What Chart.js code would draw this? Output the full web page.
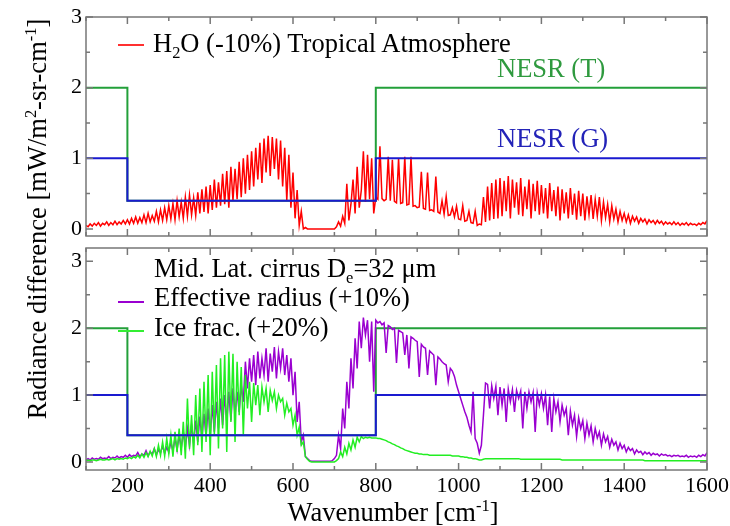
<!DOCTYPE html>
<html>
<head>
<meta charset="utf-8">
<script src="https://cdn.jsdelivr.net/npm/chart.js@4.4.1/dist/chart.umd.min.js"></script>
<style>
  body { margin: 0; background: #fff; }
  #wrap { position: relative; width: 730px; height: 526px; background: #fff; font-family: "Liberation Serif", "Times New Roman", Times, "DejaVu Serif", serif; color: #000; }
  canvas { position: absolute; left: 0; }
  .txt { position: absolute; font-size: 26.5px; line-height: 26px; white-space: nowrap; }
  .txt sup, .txt sub { font-size: 0.62em; line-height: 0; }
  .swatch { position: absolute; height: 2px; width: 26px; }
  #ytitle { position: absolute; left: -173px; top: 206px; width: 420px; text-align: center; transform: rotate(-90deg); font-size: 26.5px; line-height: 26px; white-space: nowrap; }
  #ytitle sup, #xtitle sup { font-size: 0.62em; line-height: 0; }
  #xtitle { position: absolute; left: 183px; top: 499px; width: 420px; text-align: center; font-size: 26.5px; line-height: 26px; white-space: nowrap; }
</style>
</head>
<body>
<div id="wrap">
  <canvas id="topChart" width="730" height="240" style="top:0"></canvas>
  <canvas id="bottomChart" width="730" height="286" style="top:240px"></canvas>

  <div class="swatch" style="left:118px; top:44px; background:#ff3030"></div>
  <div class="txt" style="left:153px; top:30px">H<sub>2</sub>O (-10%) Tropical Atmosphere</div>
  <div class="txt" style="left:497px; top:55px; color:#2f9a3f">NESR (T)</div>
  <div class="txt" style="left:497px; top:125px; color:#2323b8">NESR (G)</div>

  <div class="txt" style="left:154px; top:255px">Mid. Lat. cirrus D<sub>e</sub>=32 μm</div>
  <div class="swatch" style="left:118px; top:301px; background:#9a00d0"></div>
  <div class="txt" style="left:154px; top:284px">Effective radius (+10%)</div>
  <div class="swatch" style="left:118px; top:330px; background:#33ee33"></div>
  <div class="txt" style="left:154px; top:314px">Ice frac. (+20%)</div>

  <div id="ytitle">Radiance difference [mW/m<sup>2</sup>-sr-cm<sup>-1</sup>]</div>
  <div id="xtitle">Wavenumber [cm<sup>-1</sup>]</div>
</div>

<script>
// spectral grid, cm-1
const wavenumber = [
  100, 105, 110, 115, 120, 125, 130, 135, 140, 145, 150, 155, 160, 165, 170, 175, 180, 185, 190, 195,
  200, 205, 210, 215, 220, 225, 230, 235, 240, 245, 250, 255, 260, 265, 270, 275, 280, 285, 290, 295,
  300, 305, 310, 315, 320, 325, 330, 335, 340, 345, 350, 355, 360, 365, 370, 375, 380, 385, 390, 395,
  400, 405, 410, 415, 420, 425, 430, 435, 440, 445, 450, 455, 460, 465, 470, 475, 480, 485, 490, 495,
  500, 505, 510, 515, 520, 525, 530, 535, 540, 545, 550, 555, 560, 565, 570, 575, 580, 585, 590, 595,
  600, 605, 610, 615, 620, 625, 630, 635, 640, 645, 650, 655, 660, 665, 670, 675, 680, 685, 690, 695,
  700, 705, 710, 715, 720, 725, 730, 735, 740, 745, 750, 755, 760, 765, 770, 775, 780, 785, 790, 795,
  800, 805, 810, 815, 820, 825, 830, 835, 840, 845, 850, 855, 860, 865, 870, 875, 880, 885, 890, 895,
  900, 905, 910, 915, 920, 925, 930, 935, 940, 945, 950, 955, 960, 965, 970, 975, 980, 985, 990, 995,
  1000, 1005, 1010, 1015, 1020, 1025, 1030, 1035, 1040, 1045, 1050, 1055, 1060, 1065, 1070, 1075, 1080, 1085, 1090, 1095,
  1100, 1105, 1110, 1115, 1120, 1125, 1130, 1135, 1140, 1145, 1150, 1155, 1160, 1165, 1170, 1175, 1180, 1185, 1190, 1195,
  1200, 1205, 1210, 1215, 1220, 1225, 1230, 1235, 1240, 1245, 1250, 1255, 1260, 1265, 1270, 1275, 1280, 1285, 1290, 1295,
  1300, 1305, 1310, 1315, 1320, 1325, 1330, 1335, 1340, 1345, 1350, 1355, 1360, 1365, 1370, 1375, 1380, 1385, 1390, 1395,
  1400, 1405, 1410, 1415, 1420, 1425, 1430, 1435, 1440, 1445, 1450, 1455, 1460, 1465, 1470, 1475, 1480, 1485, 1490, 1495,
  1500, 1505, 1510, 1515, 1520, 1525, 1530, 1535, 1540, 1545, 1550, 1555, 1560, 1565, 1570, 1575, 1580, 1585, 1590, 1595,
  1600
];

// H2O -10%, tropical atmosphere
const h2oDiff = [
  0.05, 0.03, 0.07, 0.04, 0.08, 0.05, 0.09, 0.04, 0.08, 0.06, 0.10, 0.05, 0.09, 0.06, 0.11, 0.06, 0.10, 0.07, 0.12, 0.07,
  0.13, 0.07, 0.15, 0.08, 0.17, 0.08, 0.16, 0.09, 0.20, 0.09, 0.22, 0.10, 0.19, 0.11, 0.25, 0.10, 0.27, 0.12, 0.30, 0.13,
  0.33, 0.14, 0.36, 0.13, 0.40, 0.17, 0.38, 0.15, 0.45, 0.18, 0.48, 0.20, 0.44, 0.19, 0.52, 0.22, 0.56, 0.24, 0.60, 0.22,
  0.62, 0.27, 0.70, 0.30, 0.66, 0.33, 0.78, 0.35, 0.82, 0.30, 0.88, 0.40, 0.85, 0.42, 0.95, 0.45, 1.00, 0.50, 1.05, 0.55,
  1.10, 0.60, 1.15, 0.70, 1.22, 0.65, 1.28, 0.80, 1.32, 0.75, 1.30, 0.85, 1.28, 0.70, 1.25, 0.60, 1.15, 0.40, 1.05, 0.30,
  0.80, 0.15, 0.55, 0.05, 0.25, 0.00, 0.02, 0.00, 0.00, 0.00, 0.00, 0.00, 0.00, 0.00, 0.00, 0.00, 0.00, 0.00, 0.00, 0.00,
  0.00, 0.03, 0.10, 0.04, 0.18, 0.08, 0.64, 0.12, 0.35, 0.70, 0.22, 0.88, 0.30, 0.55, 1.10, 0.38, 1.05, 0.42, 1.00, 0.22,
  0.45, 0.42, 1.17, 0.43, 0.40, 0.42, 1.02, 0.40, 0.98, 0.39, 0.37, 1.00, 0.36, 0.37, 1.02, 0.34, 0.35, 1.02, 0.32, 0.33,
  0.30, 0.31, 0.81, 0.29, 0.28, 0.80, 0.26, 0.27, 0.25, 0.74, 0.24, 0.22, 0.40, 0.21, 0.46, 0.19, 0.20, 0.30, 0.17, 0.32,
  0.14, 0.13, 0.33, 0.11, 0.12, 0.25, 0.09, 0.08, 0.25, 0.05, 0.07, 0.06, 0.45, 0.10, 0.60, 0.12, 0.65, 0.14, 0.70, 0.15,
  0.72, 0.18, 0.68, 0.25, 0.75, 0.15, 0.70, 0.30, 0.66, 0.20, 0.72, 0.18, 0.60, 0.28, 0.70, 0.15, 0.64, 0.25, 0.68, 0.20,
  0.62, 0.22, 0.58, 0.15, 0.65, 0.25, 0.55, 0.18, 0.60, 0.12, 0.56, 0.22, 0.52, 0.15, 0.58, 0.20, 0.50, 0.13, 0.54, 0.18,
  0.50, 0.12, 0.46, 0.20, 0.48, 0.14, 0.42, 0.18, 0.45, 0.12, 0.38, 0.16, 0.35, 0.10, 0.33, 0.14, 0.28, 0.10, 0.25, 0.12,
  0.22, 0.10, 0.20, 0.08, 0.18, 0.11, 0.17, 0.08, 0.15, 0.10, 0.14, 0.07, 0.13, 0.09, 0.12, 0.07, 0.12, 0.08, 0.11, 0.06,
  0.10, 0.07, 0.09, 0.06, 0.10, 0.06, 0.09, 0.05, 0.08, 0.06, 0.09, 0.05, 0.08, 0.06, 0.07, 0.05, 0.08, 0.06, 0.09, 0.07,
  0.12
];

// mid-latitude cirrus, effective radius +10%
const effRadius = [
  0.03, 0.05, 0.03, 0.06, 0.04, 0.05, 0.04, 0.07, 0.05, 0.06, 0.05, 0.08, 0.05, 0.07, 0.06, 0.09, 0.06, 0.08, 0.07, 0.10,
  0.07, 0.11, 0.08, 0.10, 0.09, 0.14, 0.08, 0.12, 0.10, 0.17, 0.09, 0.15, 0.12, 0.20, 0.11, 0.18, 0.14, 0.24, 0.13, 0.22,
  0.15, 0.30, 0.16, 0.36, 0.18, 0.40, 0.20, 0.45, 0.22, 0.50, 0.25, 0.55, 0.28, 0.62, 0.30, 0.68, 0.35, 0.72, 0.38, 0.80,
  0.40, 0.85, 0.45, 0.90, 0.50, 0.95, 0.55, 1.00, 0.60, 1.05, 0.62, 1.10, 0.70, 1.05, 0.75, 1.15, 0.90, 1.50, 1.10, 1.55,
  1.20, 1.60, 1.15, 1.65, 1.25, 1.55, 1.30, 1.70, 1.20, 1.62, 1.35, 1.72, 1.25, 1.65, 1.40, 1.70, 1.30, 1.60, 1.20, 1.55,
  1.00, 1.35, 0.60, 0.90, 0.30, 0.40, 0.08, 0.05, 0.02, 0.01, 0.01, 0.01, 0.01, 0.01, 0.01, 0.01, 0.01, 0.01, 0.01, 0.02,
  0.05, 0.10, 0.40, 0.20, 0.80, 0.50, 1.20, 0.80, 1.55, 1.10, 1.85, 1.40, 2.10, 1.70, 2.16, 1.90, 2.12, 1.50, 2.10, 1.05,
  2.12, 2.08, 2.10, 2.05, 2.08, 1.63, 2.04, 2.02, 1.98, 2.00, 1.48, 1.97, 1.95, 1.93, 1.60, 1.90, 1.40, 1.87, 1.85, 1.82,
  1.80, 1.27, 1.76, 1.72, 1.70, 1.30, 1.66, 1.63, 1.60, 1.15, 1.57, 1.54, 1.50, 1.47, 1.45, 1.20, 1.40, 1.36, 1.28, 1.15,
  1.05, 0.95, 0.85, 0.75, 0.67, 0.55, 0.45, 1.05, 0.35, 0.28, 0.13, 0.25, 0.70, 1.18, 1.16, 0.80, 1.14, 0.95, 1.13, 0.70,
  1.12, 0.85, 1.10, 0.60, 1.09, 0.90, 1.08, 0.75, 1.07, 0.95, 1.06, 0.50, 1.05, 0.80, 1.05, 0.90, 1.04, 0.45, 1.03, 0.85,
  1.02, 0.80, 1.00, 0.55, 0.98, 0.45, 0.95, 0.75, 0.90, 0.60, 0.85, 0.70, 0.80, 0.40, 0.76, 0.55, 0.70, 0.38, 0.66, 0.50,
  0.62, 0.35, 0.58, 0.40, 0.54, 0.30, 0.50, 0.36, 0.45, 0.25, 0.42, 0.30, 0.38, 0.22, 0.34, 0.25, 0.30, 0.18, 0.28, 0.20,
  0.25, 0.15, 0.22, 0.17, 0.20, 0.12, 0.18, 0.14, 0.16, 0.11, 0.15, 0.12, 0.14, 0.10, 0.13, 0.11, 0.12, 0.09, 0.12, 0.10,
  0.11, 0.09, 0.10, 0.08, 0.10, 0.09, 0.10, 0.08, 0.09, 0.08, 0.10, 0.07, 0.09, 0.08, 0.09, 0.07, 0.10, 0.08, 0.11, 0.09,
  0.14
];

// mid-latitude cirrus, ice fraction +20%
const iceFrac = [
  0.02, 0.03, 0.02, 0.03, 0.03, 0.02, 0.03, 0.04, 0.03, 0.03, 0.04, 0.03, 0.04, 0.05, 0.03, 0.05, 0.04, 0.05, 0.04, 0.06,
  0.05, 0.07, 0.05, 0.08, 0.06, 0.10, 0.06, 0.12, 0.07, 0.14, 0.08, 0.16, 0.09, 0.20, 0.08, 0.25, 0.10, 0.30, 0.09, 0.35,
  0.12, 0.40, 0.08, 0.45, 0.15, 0.50, 0.10, 0.60, 0.05, 0.95, 0.20, 0.70, 0.10, 1.00, 0.25, 1.10, 0.15, 1.20, 0.30, 1.30,
  0.10, 1.35, 0.40, 1.45, 0.20, 1.55, 0.50, 1.60, 0.15, 1.65, 0.60, 1.62, 0.30, 1.50, 0.70, 1.42, 0.40, 1.30, 0.80, 1.20,
  0.60, 1.18, 0.85, 1.15, 0.70, 1.12, 0.90, 1.10, 0.75, 1.07, 0.92, 1.05, 0.80, 1.00, 0.90, 0.95, 0.70, 0.88, 0.75, 0.80,
  0.55, 0.70, 0.40, 0.52, 0.25, 0.30, 0.08, 0.04, 0.01, 0.00, 0.00, 0.00, 0.00, 0.00, 0.00, 0.00, 0.00, 0.00, 0.00, 0.00,
  0.00, 0.02, 0.05, 0.15, 0.08, 0.22, 0.12, 0.28, 0.18, 0.33, 0.22, 0.37, 0.30, 0.38, 0.35, 0.37, 0.36, 0.37, 0.36, 0.36,
  0.36, 0.35, 0.35, 0.34, 0.33, 0.32, 0.30, 0.29, 0.27, 0.26, 0.24, 0.23, 0.21, 0.20, 0.18, 0.17, 0.16, 0.15, 0.14, 0.13,
  0.13, 0.12, 0.12, 0.11, 0.11, 0.11, 0.10, 0.10, 0.10, 0.10, 0.10, 0.10, 0.10, 0.10, 0.10, 0.10, 0.10, 0.09, 0.09, 0.09,
  0.09, 0.08, 0.08, 0.07, 0.07, 0.06, 0.06, 0.05, 0.05, 0.04, 0.03, 0.03, 0.04, 0.05, 0.05, 0.05, 0.05, 0.05, 0.05, 0.05,
  0.05, 0.05, 0.05, 0.05, 0.05, 0.05, 0.05, 0.05, 0.05, 0.05, 0.04, 0.04, 0.04, 0.04, 0.04, 0.04, 0.04, 0.04, 0.04, 0.04,
  0.04, 0.04, 0.04, 0.04, 0.04, 0.04, 0.04, 0.04, 0.04, 0.04, 0.03, 0.03, 0.03, 0.03, 0.03, 0.03, 0.03, 0.03, 0.03, 0.03,
  0.03, 0.03, 0.03, 0.03, 0.03, 0.03, 0.03, 0.03, 0.03, 0.03, 0.03, 0.03, 0.03, 0.03, 0.03, 0.03, 0.03, 0.03, 0.03, 0.03,
  0.03, 0.03, 0.03, 0.03, 0.03, 0.03, 0.03, 0.03, 0.03, 0.03, 0.02, 0.02, 0.02, 0.02, 0.02, 0.02, 0.02, 0.02, 0.02, 0.02,
  0.02, 0.02, 0.02, 0.02, 0.02, 0.02, 0.02, 0.02, 0.02, 0.02, 0.02, 0.02, 0.02, 0.02, 0.02, 0.02, 0.02, 0.02, 0.02, 0.02,
  0.02
];

// instrument noise levels (step functions)
const nesrX = [100, 200, 200, 800, 800, 1600];
const nesrT = [2, 2, 0.4, 0.4, 2, 2];
const nesrG = [1, 1, 0.4, 0.4, 1, 1];

// axis ticks
const xMajorTicks = [200, 400, 600, 800, 1000, 1200, 1400, 1600];
const xMinorTicks = [100, 300, 500, 700, 900, 1100, 1300, 1500];
const yMajorTicks = [0, 1, 2, 3];
const yMinorTicks = [0.5, 1.5, 2.5];

const toPoints = (xs, ys) => xs.map((w, i) => ({ x: w, y: ys[i] }));

const lineSet = (data, color, width) => ({
  data: data,
  borderColor: color,
  borderWidth: width,
  pointRadius: 0,
  tension: 0,
  fill: false
});

// frame box and inward ticks on all four sides
const framePlugin = {
  id: 'frame',
  afterDatasetsDraw(chart) {
    const { ctx, chartArea: a, scales } = chart;
    const x = scales.x, y = scales.y;
    ctx.save();
    ctx.strokeStyle = '#777';
    ctx.lineWidth = 1.5;
    ctx.strokeRect(a.left, a.top, a.right - a.left, a.bottom - a.top);
    ctx.beginPath();
    const xMark = (v, len) => {
      const px = x.getPixelForValue(v);
      ctx.moveTo(px, a.bottom); ctx.lineTo(px, a.bottom - len);
      ctx.moveTo(px, a.top); ctx.lineTo(px, a.top + len);
    };
    const yMark = (v, len) => {
      const py = y.getPixelForValue(v);
      ctx.moveTo(a.left, py); ctx.lineTo(a.left + len, py);
      ctx.moveTo(a.right, py); ctx.lineTo(a.right - len, py);
    };
    xMajorTicks.forEach(v => xMark(v, 7));
    xMinorTicks.forEach(v => xMark(v, 4));
    yMajorTicks.forEach(v => yMark(v, 7));
    yMinorTicks.forEach(v => yMark(v, 4));
    ctx.stroke();
    ctx.restore();
  }
};

const tickFont = { family: '"Liberation Serif", "Times New Roman", Times, serif', size: 22 };

function panelOptions(yMin, yMax, showX, xHeight, pad) {
  return {
    responsive: false,
    animation: false,
    events: [],
    layout: { padding: pad },
    plugins: { legend: { display: false }, tooltip: { enabled: false } },
    scales: {
      x: {
        type: 'linear',
        min: 100,
        max: 1600,
        grid: { display: false, drawTicks: false },
        border: { display: false },
        ticks: { display: showX, font: tickFont, color: '#000', padding: 3, maxRotation: 0, callback: v => String(v) },
        afterBuildTicks: s => { s.ticks = xMajorTicks.map(v => ({ value: v })); },
        afterFit: s => { s.height = xHeight; s.paddingLeft = 0; s.paddingRight = 0; }
      },
      y: {
        min: yMin,
        max: yMax,
        grid: { display: false, drawTicks: false },
        border: { display: false },
        ticks: { font: tickFont, color: '#000', padding: 4, callback: v => String(v) },
        afterBuildTicks: s => { s.ticks = yMajorTicks.map(v => ({ value: v })); },
        afterFit: s => { s.width = 86; s.paddingTop = 0; s.paddingBottom = 0; }
      }
    }
  };
}

new Chart(document.getElementById('topChart'), {
  type: 'line',
  data: {
    datasets: [
      lineSet(toPoints(nesrX, nesrG), '#1a1ad0', 2),
      lineSet(toPoints(wavenumber, h2oDiff), '#ff0000', 1.5),
      lineSet(toPoints(nesrX, nesrT), '#23a03a', 2)
    ]
  },
  options: panelOptions(-0.1, 3, false, 0, { top: 17, right: 23, bottom: 4, left: 0 }),
  plugins: [framePlugin]
});

new Chart(document.getElementById('bottomChart'), {
  type: 'line',
  data: {
    datasets: [
      lineSet(toPoints(nesrX, nesrG), '#1a1ad0', 2),
      lineSet(toPoints(wavenumber, iceFrac), '#22ee22', 1.5),
      lineSet(toPoints(wavenumber, effRadius), '#9a00d0', 1.5),
      lineSet(toPoints(nesrX, nesrT), '#23a03a', 2)
    ]
  },
  options: panelOptions(-0.12, 3.2, true, 56, { top: 8, right: 23, bottom: 0, left: 0 }),
  plugins: [framePlugin]
});
</script>
</body>
</html>
